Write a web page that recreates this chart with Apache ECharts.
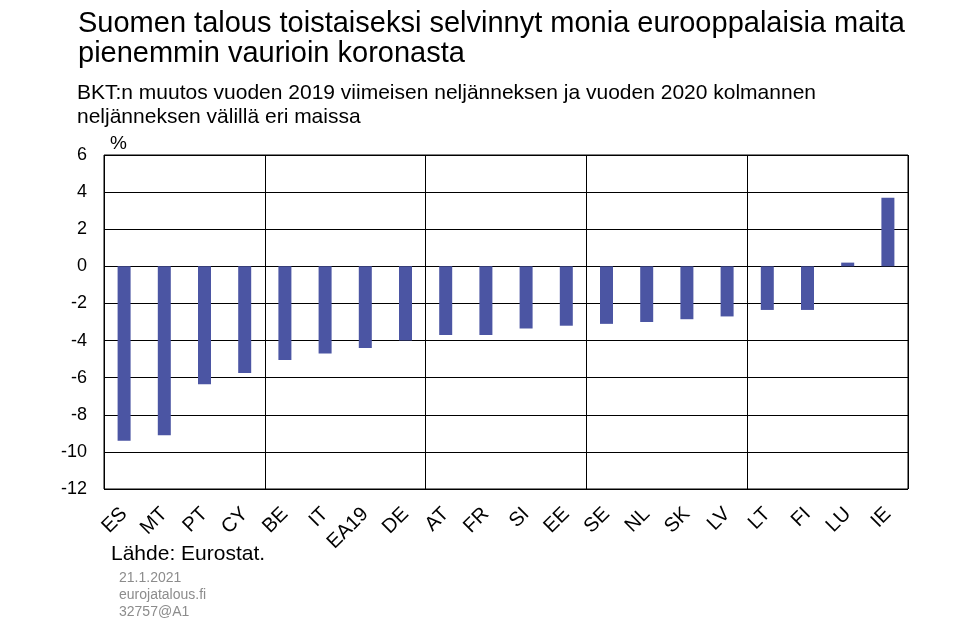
<!DOCTYPE html>
<html><head><meta charset="utf-8">
<script src="https://cdn.jsdelivr.net/npm/echarts@6/dist/echarts.min.js"></script>
<style>html,body{margin:0;padding:0;background:#fff}#c{width:962px;height:628px}</style>
</head><body><div id="c"></div>
<script>
var categories = ["ES","MT","PT","CY","BE","IT","EA19","DE","AT","FR","SI","EE","SE","NL","SK","LV","LT","FI","LU","IE"];
var values = [-9.4,-9.1,-6.35,-5.75,-5.05,-4.7,-4.4,-4.0,-3.7,-3.7,-3.35,-3.2,-3.1,-3.0,-2.85,-2.7,-2.35,-2.35,0.2,3.7];
var yMin = -12, yMax = 6, yStep = 2;

var FONT = '"Liberation Sans", Arial, sans-serif';
var chart = echarts.init(document.getElementById('c'));
chart.setOption({
  animation: false,
  backgroundColor: '#fff',
  textStyle: {fontFamily: FONT},
  title: [
    {text: 'Suomen talous toistaiseksi selvinnyt monia eurooppalaisia maita\npienemmin vaurioin koronasta', left: 73, top: 4,
     textStyle: {fontFamily: FONT, fontSize: 29, fontWeight: 'normal', color: '#000', lineHeight: 30}},
    {text: 'BKT:n muutos vuoden 2019 viimeisen neljänneksen ja vuoden 2020 kolmannen\nneljänneksen välillä eri maissa', left: 72, top: 76,
     textStyle: {fontFamily: FONT, fontSize: 21, fontWeight: 'normal', color: '#000', lineHeight: 24}},
    {text: '%', left: 105, top: 129, textStyle: {fontFamily: FONT, fontSize: 19, fontWeight: 'normal', color: '#000'}},
    {text: 'Lähde: Eurostat.', left: 106, top: 539, textStyle: {fontFamily: FONT, fontSize: 21, fontWeight: 'normal', color: '#000'}},
    {text: '21.1.2021\neurojatalous.fi\n32757@A1', left: 114, top: 565, textStyle: {fontFamily: FONT, fontSize: 14, fontWeight: 'normal', color: '#8c8c8c', lineHeight: 17}}
  ],
  grid: {left: 104, right: 54, top: 155, bottom: 139, show: true, borderColor: '#000', borderWidth: 1},
  xAxis: {
    type: 'category', data: categories,
    axisLine: {show: false}, axisTick: {show: false},
    splitLine: {show: true, interval: function (i) { return i % 4 === 0; }, lineStyle: {color: '#000', width: 1}},
    axisLabel: {rotate: 45, margin: 22, fontSize: 20, color: '#000', fontFamily: FONT, interval: 0}
  },
  yAxis: {
    type: 'value', min: yMin, max: yMax, interval: yStep,
    axisLine: {show: false}, axisTick: {show: false},
    splitLine: {lineStyle: {color: '#000', width: 1}},
    axisLabel: {fontSize: 18, color: '#000', fontFamily: FONT, margin: 17}
  },
  series: [{
    type: 'bar', data: values, barWidth: 13,
    itemStyle: {color: '#4B55A3'}
  }]
});
</script></body></html>
